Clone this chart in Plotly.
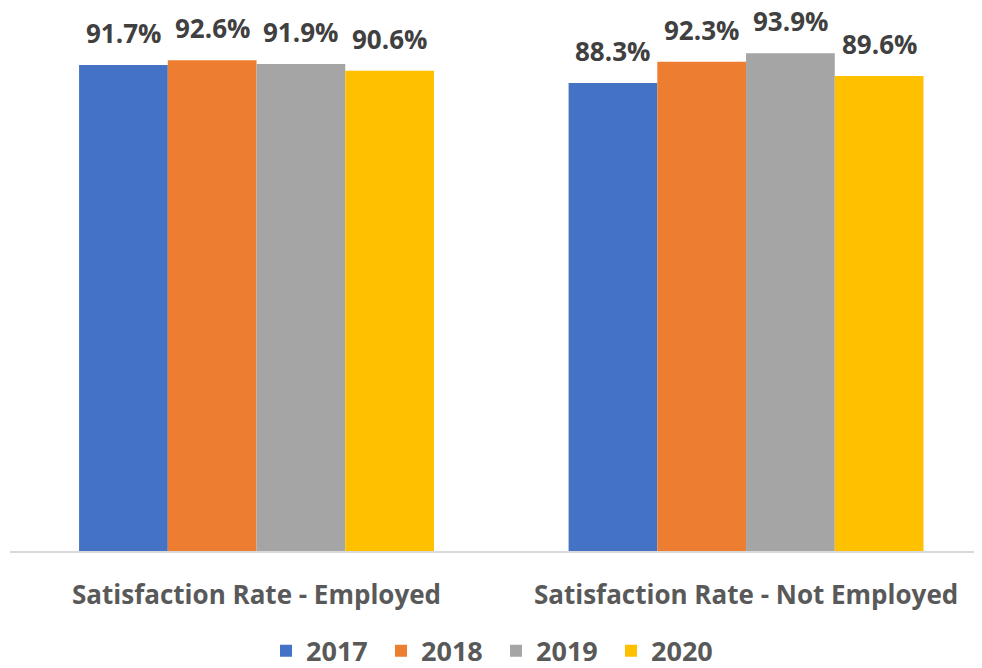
import plotly.graph_objects as go

categories = ["Satisfaction Rate - Employed", "Satisfaction Rate - Not Employed"]
years = ["2017", "2018", "2019", "2020"]
v2017 = [91.7, 88.3]
v2018 = [92.6, 92.3]
v2019 = [91.9, 93.9]
v2020 = [90.6, 89.6]
colors = ["#4472C4", "#ED7D31", "#A5A5A5", "#FFC000"]

series = [v2017, v2018, v2019, v2020]
bargap = 0.275
group_w = 1 - bargap
bar_w = group_w / len(years)

fig = go.Figure()
annotations = []
for i, (yr, vals, col) in enumerate(zip(years, series, colors)):
    fig.add_trace(go.Bar(
        name=yr, x=categories, y=vals, marker=dict(color=col, line=dict(width=0)),
    ))
    off = -group_w / 2 + (i + 0.5) * bar_w
    for j, v in enumerate(vals):
        annotations.append(dict(
            x=j + off, y=v, xref="x", yref="y", text=f"{v:.1f}%",
            showarrow=False, yanchor="bottom", yshift=12,
            font=dict(family="Open Sans", size=26, color="#404040", weight="bold"),
        ))

fig.update_layout(
    width=982, height=668,
    margin=dict(l=2, r=8, t=0, b=125, autoexpand=False),
    paper_bgcolor="white", plot_bgcolor="white",
    barmode="group", bargap=bargap, bargroupgap=0,
    annotations=annotations,
    showlegend=True,
    legend=dict(orientation="h", x=0.5, xanchor="center", yref="container",
                y=0.037, yanchor="middle",
                font=dict(family="Open Sans", size=27, color="#595959", weight="bold"),
                itemwidth=30, entrywidth=70, traceorder="normal"),
    xaxis=dict(type="category", range=[-0.5036, 1.482], showline=True, linecolor="#D9D9D9",
               linewidth=1.5, ticks="", ticklabelstandoff=20, automargin=False,
               tickfont=dict(family="Open Sans", size=26, color="#595959", weight="bold")),
    yaxis=dict(range=[0, 102.45], visible=False, showgrid=False, zeroline=False),
)

fig.write_html("out.html")
